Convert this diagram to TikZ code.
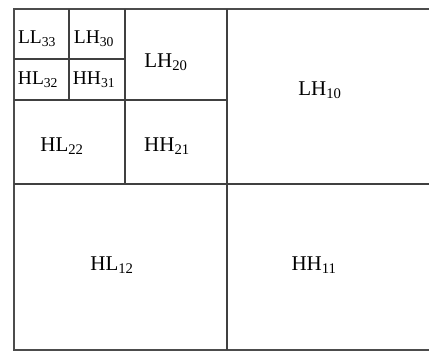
\documentclass[tikz,border=0pt]{standalone}
\usepackage{fontspec}
\setmainfont{Liberation Serif}
\begin{document}
\begin{tikzpicture}[x=1pt,y=-1pt,
  frame/.style={draw=black!70,line width=1.6pt},
  grid/.style={draw=black!75,line width=1.2pt},
  big/.style={inner sep=0pt,font=\fontsize{21}{23}\selectfont},
  small/.style={inner sep=0pt,font=\fontsize{19.5}{21}\selectfont}]
\useasboundingbox[fill=white] (0,0) rectangle (429,356);
% outer frame (right side runs off the picture)
\draw[frame] (432,9) -- (14,9) -- (14,350) -- (432,350);
% level 1
\draw[grid] (227,9) -- (227,350);
\draw[grid] (14,184) -- (429,184);
% level 2
\draw[grid] (125,9) -- (125,184);
\draw[grid] (14,100) -- (227,100);
% level 3
\draw[grid] (69,9) -- (69,100);
\draw[grid] (14,59) -- (125,59);
% labels
\node[small] (ll33) at (37,39) {LL\textsubscript{33}};
\node[small] (lh30) at (94,39) {LH\textsubscript{30}};
\node[small] (hl32) at (38,80) {HL\textsubscript{32}};
\node[small] (hh31) at (94,80) {HH\textsubscript{31}};
\node[big] (lh20) at (166,62) {LH\textsubscript{20}};
\node[big] (hl22) at (62,146) {HL\textsubscript{22}};
\node[big] (hh21) at (167,146) {HH\textsubscript{21}};
\node[big] (lh10) at (320,90) {LH\textsubscript{10}};
\node[big] (hl12) at (112,265) {HL\textsubscript{12}};
\node[big] (hh11) at (314,265) {HH\textsubscript{11}};
\end{tikzpicture}
\end{document}
